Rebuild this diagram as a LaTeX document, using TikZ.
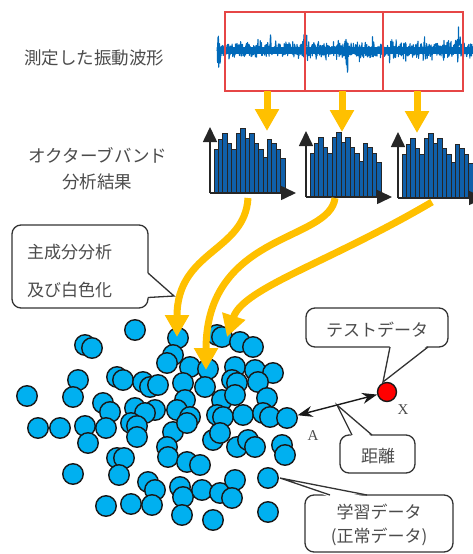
\documentclass[tikz,border=0pt]{standalone}
\usepackage{fontspec}
\setmainfont{Liberation Serif}
\newfontfamily\jp{Noto Sans CJK JP}
\usetikzlibrary{arrows.meta,calc}
\definecolor{wave}{RGB}{0,105,185}
\definecolor{dotc}{RGB}{0,176,240}
\definecolor{yel}{RGB}{255,192,0}
\definecolor{barc}{RGB}{16,96,170}
\definecolor{txt}{RGB}{75,75,75}
\definecolor{boxred}{RGB}{230,70,70}
\newcommand\histo[1]{%
  \begin{scope}[shift={(#1)}]
    \foreach \h [count=\i] in {44,54,60,50,44,60,65,55,60,50,44,36,54,50,44,35}
      \draw[fill=barc,draw=black!85,line width=0.9pt] ({4+(\i-1)*4.45},0) rectangle ++(4.45,-\h);
    \draw[line width=1.6pt,black!85,-{Triangle[width=14pt,length=15pt]}] (0,0) -- (0,-66);
    \draw[line width=1.6pt,black!85,-{Triangle[width=14pt,length=15pt]}] (0,0) -- (86,0);
  \end{scope}}
\begin{document}
\begin{tikzpicture}[x=1pt,y=-1pt,
  dot/.style={circle,draw=black!90,line width=1.4pt,fill=dotc,minimum size=20.5pt,inner sep=0pt},
  yarrow/.style={draw=yel,line width=7pt,-{Triangle[width=23pt,length=22pt]}},
  callout/.style={draw=black!80,line width=1.3pt,rounded corners=9pt,fill=white,inner sep=0pt},
  lbl/.style={font=\jp\fontsize{17}{20}\selectfont,text=txt,inner sep=0pt},
  ptr/.style={draw=black!80,line width=1.3pt,line join=miter},
]
\useasboundingbox (0,0) rectangle (473,554);
% left labels
\node[lbl,font=\jp\fontsize{17.5}{20}\selectfont] (t1) at (94,58) {測定した振動波形};
\node[lbl,font=\jp\fontsize{17.5}{20}\selectfont] (t2) at (98,155) {オクターブバンド};
\node[lbl,font=\jp\fontsize{17.5}{20}\selectfont] (t3) at (97,182) {分析結果};
% waveform
\pgfmathsetseed{7}
\fill[wave] (217,46.5) rectangle (473,53.5);
\draw[wave,line width=1.1pt,line join=round] plot[samples=900,domain=217:473]
  (\x,{50+6.5*rand+10*rand*rand*rand+16*rand*rand*rand*rand*rand*rand
   +rand*(16*max(0,1-abs(\x-218)/2)+22*max(0,1-abs(\x-305)/2.5)+28*max(0,1-abs(\x-347)/3)
   +24*max(0,1-abs(\x-458)/3)+8*max(0,1-abs(\x-270)/4)+10*max(0,1-abs(\x-425)/4)+8*max(0,1-abs(\x-392)/5)+8*max(0,1-abs(\x-335)/4))});
\draw[boxred,line width=1.2pt] (225,12) rectangle (463,91);
\draw[boxred,line width=1.2pt] (305,12) -- (305,91);
\draw[boxred,line width=1.2pt] (383,12) -- (383,91);
\coordinate (w1) at (267,91);
\coordinate (w2) at (342,91);
\coordinate (w3) at (417,91);
\coordinate (h1) at (267,131);
\coordinate (h2) at (342,132);
\coordinate (h3) at (417,133);
% histograms
\histo{210,193}
\histo{306,197}
\histo{398,198}
\draw[yarrow] (w1) -- (h1);
\draw[yarrow] (w2) -- (h2);
\draw[yarrow] (w3) -- (h3);
% dots
\foreach \px/\py [count=\k] in {135/330, 85/345, 92/348, 178/338, 217/335, 222/337, 240/342, 253/347, 173/355, 167/363, 190/367, 208/369, 235/367, 255/370, 273/373, 117/377, 123/380, 78/380, 73/397, 27/396, 143/382, 150/387, 158/385, 183/383, 205/387, 232/380, 237/383, 258/382, 103/403, 110/412, 135/408, 185/400, 177/410, 190/417, 222/400, 235/395, 267/398, 155/410, 145/413, 217/415, 223/417, 243/415, 263/413, 270/417, 38/428, 60/428, 85/426, 106/428, 131/423, 137/426, 173/432, 187/423, 88/443, 137/437, 167/447, 168/457, 187/462, 200/465, 213/440, 220/433, 237/447, 248/440, 255/447, 282/445, 285/455, 117/458, 124/458, 119/475, 73/474, 148/482, 155/490, 152/505, 180/487, 183/497, 202/490, 220/493, 235/480, 232/498, 268/478, 106/506, 131/504, 182/515, 213/520, 268/512}
  \node[dot] (d\k) at (\px,\py) {};
\node[dot] (A) at (287,418) {};
\node[dot,fill=red,minimum size=19pt] (X) at (387,392) {};
% curved yellow arrows
\coordinate (s1) at (248,198);
\coordinate (s2) at (335,198);
\coordinate (s3) at (432,202);
\coordinate (e1) at (177,337);
\coordinate (e2) at (206,370);
\coordinate (e3) at (227,337);
\draw[yarrow] (s1) .. controls (245,252) and (177,250) .. (e1);
\draw[yarrow] (s2) .. controls (330,242) and (206,232) .. (e2);
\draw[yarrow] (s3) .. controls (330,262) and (243,288) .. (e3);
% distance arrow
\draw[line width=1.4pt,black!90,{Stealth[length=15pt,width=11pt]}-{Stealth[length=15pt,width=11pt]}] (A) -- (X);
\coordinate (mid) at ($(A)!0.5!(X)$);
\node[font=\fontsize{15}{15}\selectfont,text=txt] (la) at (313,436) {A};
\node[font=\fontsize{15}{15}\selectfont,text=txt] (lx) at (403,410) {X};
% callout: PCA
\node[callout,minimum width=136pt,minimum height=83pt] (pca) at (80,266.5) {};
\coordinate (pt1) at (174,296);
\fill[white] (145,273) -- (148,273) -- (pt1) -- (148,297.5) -- (145,297.5) -- cycle;
\draw[ptr] (148,273) -- (pt1) -- (148,297.5);
\node[lbl,anchor=west] (pca1) at (27,252) {主成分分析};
\node[lbl,anchor=west] (pca2) at (27,290) {及び白色化};
% callout: test data
\node[callout,minimum width=142pt,minimum height=39pt] (test) at (377,327.5) {};
\coordinate (pt2) at (383,382);
\fill[white] (390,345) -- (pt2) -- (428,345) -- cycle;
\draw[ptr] (390,347) -- (pt2) -- (428,347);
\node[lbl] (testt) at (377,330) {テストデータ};
% callout: distance
\node[callout,minimum width=75pt,minimum height=38pt] (dist) at (377.5,454) {};
\fill[white] (352,437) -- (mid) -- (372,437) -- cycle;
\draw[ptr] (352,435) -- (mid) -- (372,435);
\node[lbl] (distt) at (378,456) {距離};
% callout: learning data
\node[callout,minimum width=148pt,minimum height=57pt] (learn) at (379,523.5) {};
\coordinate (pt4) at (280,478);
\fill[white] (330,497) -- (pt4) -- (367,497) -- cycle;
\draw[ptr] (330,495) -- (pt4) -- (367,495);
\node[lbl] (learn1) at (379,512) {学習データ};
\node[lbl] (learn2) at (379,537) {(正常データ)};
\end{tikzpicture}
\end{document}
